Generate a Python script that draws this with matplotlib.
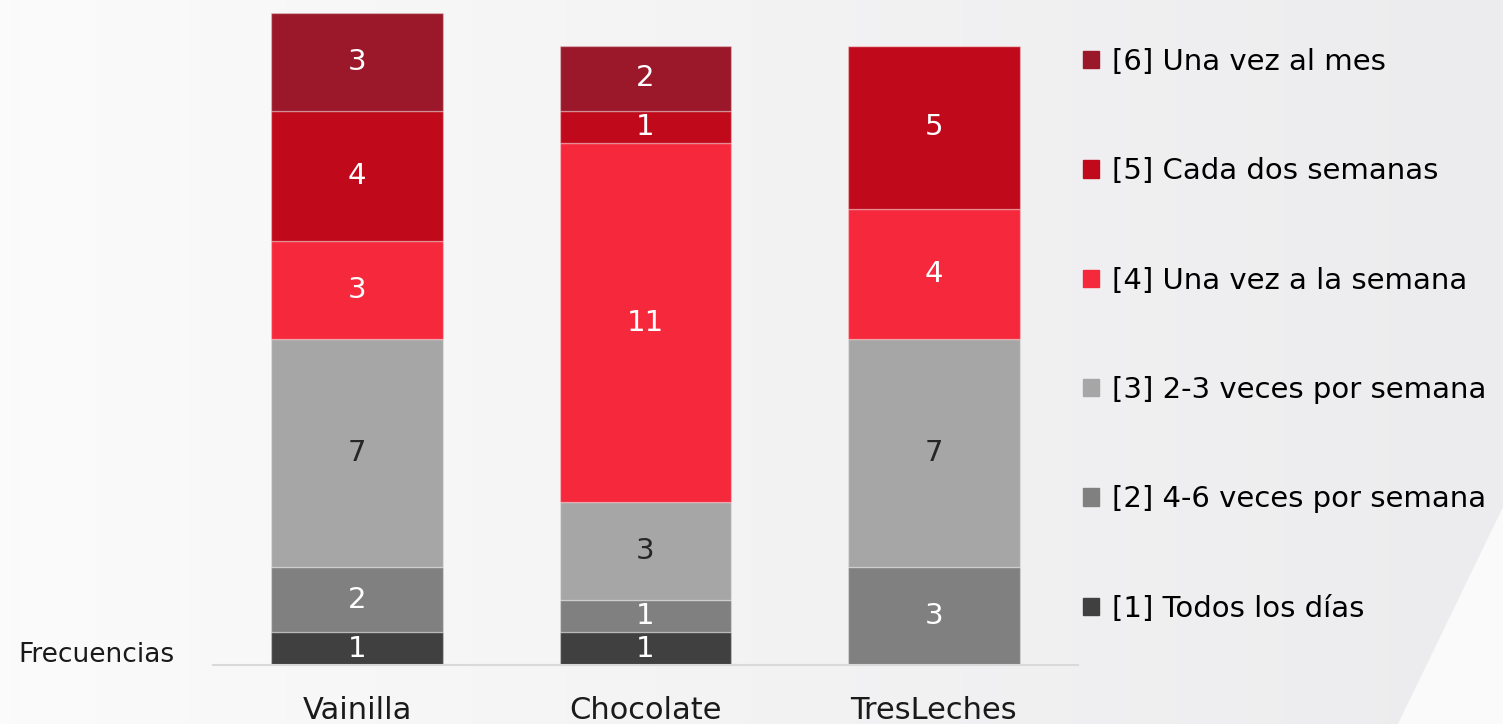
import numpy as np
import matplotlib.pyplot as plt
from matplotlib.patches import Patch
from matplotlib.colors import LinearSegmentedColormap

plt.rcParams['font.family'] = ['DejaVu Sans']

categories = ['Vainilla', 'Chocolate', 'TresLeches']
labels = ['[1] Todos los días', '[2] 4-6 veces por semana', '[3] 2-3 veces por semana',
          '[4] Una vez a la semana', '[5] Cada dos semanas', '[6] Una vez al mes']
values = [
    [1, 1, 0],    # [1]
    [2, 1, 3],    # [2]
    [7, 3, 7],    # [3]
    [3, 11, 4],   # [4]
    [4, 1, 5],    # [5]
    [3, 2, 0],    # [6]
]
colors = ['#404040', '#808080', '#A6A6A6', '#F5283C', '#C00A1B', '#9B182B']
text_colors = ['white', 'white', '#262626', 'white', 'white', 'white']

fig = plt.figure(figsize=(15.03, 7.24), dpi=100)

# background gradient
bg = fig.add_axes([0, 0, 1, 1], zorder=-10)
grad = np.tile(np.linspace(0, 1, 300), (50, 1))
bg.imshow(grad, aspect='auto', extent=[0, 1, 0, 1],
          cmap=LinearSegmentedColormap.from_list('bg', ['#FBFBFB', '#F3F3F4', '#ECECEE']))
bg.fill([0.93, 1.0, 1.0], [0.0, 0.0, 0.30], color='#FAFAFA')
bg.set_xlim(0, 1)
bg.set_ylim(0, 1)
bg.axis('off')

ax = fig.add_axes([0.1417, 0.0815, 0.5755, 0.9005])
ax.patch.set_alpha(0)
x = np.arange(len(categories))
bottom = np.zeros(len(categories))
for i, (vals, c) in enumerate(zip(values, colors)):
    vals = np.array(vals)
    ax.bar(x, vals, 0.595, bottom=bottom, color=c, edgecolor=(1, 1, 1, 0.3),
           linewidth=1, label=labels[i])
    for j, v in enumerate(vals):
        if v > 0:
            ax.text(x[j], bottom[j] + v / 2, str(v), ha='center', va='center',
                    fontsize=21, color=text_colors[i])
    bottom += vals

ax.set_xlim(-0.5, 2.5)
ax.set_ylim(0, 20)
ax.set_yticks([])
for s in ['top', 'right', 'left']:
    ax.spines[s].set_visible(False)
ax.spines['bottom'].set_color('#D9D9D9')
ax.spines['bottom'].set_linewidth(1.5)
ax.set_xticks(x)
ax.set_xticklabels(categories, fontsize=22, color='#1a1a1a')
ax.tick_params(axis='x', length=0, pad=22)

fig.text(0.012, 0.095, 'Frecuencias', fontsize=19, color='#1a1a1a', va='center')

handles = [Patch(color=c) for c in colors][::-1]
fig.legend(handles, labels[::-1], loc='upper left', bbox_to_anchor=(0.713, 0.95),
           frameon=False, fontsize=21, handlelength=0.55, handleheight=0.55,
           labelspacing=2.79, handletextpad=0.42, borderaxespad=0)

fig.savefig('out.png', dpi=100)
